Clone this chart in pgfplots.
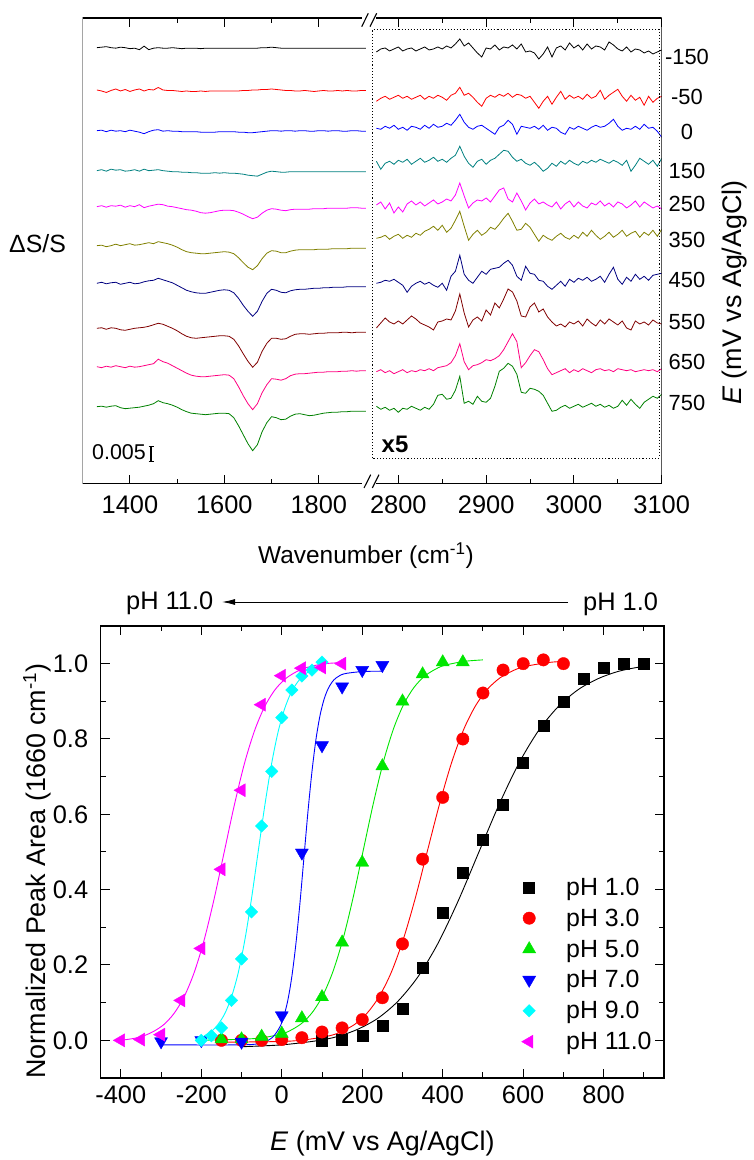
\documentclass[border=0pt]{standalone}
\usepackage{pgfplots}
\pgfplotsset{compat=1.18}
\usepackage{fontspec}
\setmainfont{Liberation Sans}
\usetikzlibrary{arrows.meta}
\definecolor{cTeal}{RGB}{0,128,128}
\definecolor{cOlive}{RGB}{128,128,0}
\definecolor{cNavy}{RGB}{0,0,128}
\definecolor{cMaroon}{RGB}{128,0,0}
\definecolor{cPink}{RGB}{255,0,128}
\definecolor{cGreen}{RGB}{0,128,0}
\definecolor{cLime}{RGB}{0,230,0}
\definecolor{cCyan}{RGB}{0,255,255}
\definecolor{cMag}{RGB}{255,0,255}
\definecolor{cRed}{RGB}{255,0,0}
\definecolor{cBlue}{RGB}{0,0,255}
\newcommand\fs[1]{\fontsize{#1}{#1}\selectfont}
\pgfplotsset{
  spec/.style={line width=0.8bp},
  table/tl/.style={header=false, x expr=\coordindex*10+1330},
  table/tr/.style={header=false, x expr=\coordindex*5+2775},
}
\begin{document}
\begin{tikzpicture}[x=1bp,y=1bp]
\useasboundingbox (0,0) rectangle (754,1160);
% ---------------- top left
\begin{axis}[
  at={(82.7bp,676bp)}, anchor=south west, scale only axis,
  width=283.3bp, height=466bp,
  xmin=1300, xmax=1900, ymin=0, ymax=466,
  axis line style={draw=none},
  xtick={1400,1600,1800}, xticklabels={1400,1600,1800},
  minor xtick={1500,1700},
  ytick=\empty,
  minor ytick={32.3,65.6,99.0,132.3,165.6,199.0,232.3,265.6,299.0,332.3,365.6,399.0,432.3},
  xtick pos=both, ytick pos=left, tick align=inside,
  major tick length=9bp, minor tick length=5bp,
  every tick/.style={black, line width=1bp},
  tick label style={font=\fs{25.5}},
  xticklabel style={yshift=-8.5bp},
]
\addplot[spec, black] table[row sep=\\, tl, y expr=\thisrowno{0}+436.3] {0\\0.5\\1\\0\\-0.5\\0.5\\0\\-1\\-0.5\\-2\\1.5\\-2\\-0.5\\0\\-0.5\\-0.5\\0\\-0.5\\-1\\-0.5\\-0.5\\-0.5\\-1\\-0.5\\-0.5\\-0.5\\-0.5\\-0.5\\-0.5\\-0.5\\-0.5\\-0.5\\-0.5\\-0.5\\-0.5\\0\\0\\0.5\\0\\-0.5\\-0.5\\-0.5\\-0.5\\-0.5\\-0.5\\-0.5\\-0.5\\-0.5\\-0.5\\-0.5\\-0.5\\-0.5\\-0.5\\-0.5\\-0.5\\-0.5\\-0.5\\-0.5\\};
\addplot[spec, cRed] table[row sep=\\, tl, y expr=\thisrowno{0}+394] {0\\-1\\-2.5\\-0.5\\1\\-1\\0.5\\-1.5\\0\\1\\-1\\0.5\\0\\2.5\\0\\-0.5\\-0.5\\-1\\-1.5\\-1\\-1.5\\-1.5\\-1\\-1.5\\-1\\-1\\-1\\-1\\-1\\-1\\-1\\-0.5\\-0.5\\0\\0\\0.5\\0.5\\1\\0.5\\0\\-0.5\\-0.5\\-1\\-1\\-0.5\\-1\\-1.5\\-1\\-0.5\\-1\\-1\\-0.5\\-1\\-0.5\\-1\\-1\\-0.5\\-0.5\\};
\addplot[spec, cBlue] table[row sep=\\, tl, y expr=\thisrowno{0}+353.3] {0\\0.5\\-1\\0.5\\-0.5\\0\\-1\\0.5\\-0.5\\-1.5\\-3\\-1\\0.5\\1\\-0.5\\0\\-0.5\\-0.5\\-1\\-1\\-1\\-1\\-1.5\\-1.5\\-1.5\\-1.5\\-1\\-1\\-1\\-1\\-1.5\\-1.5\\-2\\-2\\-1.5\\-1\\-0.5\\0\\0\\-0.5\\0\\0\\-0.5\\0\\0\\-0.5\\-0.5\\0\\0\\-0.5\\0\\0\\-0.5\\-0.5\\0\\0\\-0.5\\-0.5\\};
\addplot[spec, cTeal] table[row sep=\\, tl, y expr=\thisrowno{0}+313.3] {0\\1\\-0.5\\1.5\\0.5\\1\\-0.5\\0\\1\\-0.5\\1.5\\0\\0.5\\1\\0\\-0.5\\-1\\-1\\-1.5\\-1.5\\-2\\-2\\-2.5\\-2.5\\-2.5\\-2\\-2.5\\-2\\-2.5\\-2.5\\-3\\-3.5\\-4.5\\-5\\-5.5\\-3.5\\-1.5\\-0.5\\-1\\-1.5\\-1.5\\-1\\-1\\-1\\-1\\-1\\-1\\-1\\-1\\-1\\-1\\-1\\-1\\-1\\-1\\-1\\-1\\-1\\};
\addplot[spec, cMag] table[row sep=\\, tl, y expr=\thisrowno{0}+277.3] {0\\1\\-0.5\\1\\0.5\\1.5\\-0.5\\1\\0\\2\\-1\\0.5\\1.5\\2.5\\2\\0.5\\0\\-1\\-2\\-3\\-3.5\\-4.5\\-6\\-6.5\\-6\\-5\\-4\\-3.5\\-3.5\\-4\\-5.5\\-7.5\\-10\\-12\\-10.5\\-6.5\\-3.5\\-2\\-2.5\\-3.5\\-4\\-3\\-2.5\\-2.5\\-2.5\\-2.5\\-2\\-2\\-2\\-1.5\\-1.5\\-1.5\\-1.5\\-1.5\\-1\\-1\\-1.5\\-1.5\\};
\addplot[spec, cOlive] table[row sep=\\, tl, y expr=\thisrowno{0}+238.3] {0\\0.5\\-1\\0\\1.5\\0\\1\\2\\0.5\\1\\2\\3\\2\\4\\3\\2\\0.5\\-1.5\\-4\\-6\\-7\\-7.5\\-8\\-8\\-7.5\\-7\\-6.5\\-6\\-6.5\\-8\\-12\\-17\\-21.5\\-24\\-20\\-13\\-7.5\\-5\\-5.5\\-7\\-7\\-5.5\\-4.5\\-4\\-4\\-4\\-4\\-3.5\\-3.5\\-3.5\\-3\\-3\\-3\\-3\\-2.5\\-2.5\\-2.5\\-2.5\\};
\addplot[spec, cNavy] table[row sep=\\, tl, y expr=\thisrowno{0}+200.7] {0\\1\\-0.5\\0.5\\1\\-1\\0\\1\\-0.5\\0\\1.5\\2.5\\3\\5\\3.5\\2\\0.5\\-2\\-4.5\\-7\\-8.5\\-9.5\\-10\\-10\\-9\\-8\\-7\\-6.5\\-7\\-9.5\\-15\\-22\\-28\\-33\\-28\\-18\\-10\\-6\\-7\\-9\\-9.5\\-7.5\\-6.5\\-6\\-6\\-5.5\\-5\\-5\\-4.5\\-4.5\\-4\\-4\\-4\\-3.5\\-3.5\\-3.5\\-3.5\\-3.5\\};
\addplot[spec, cMaroon] table[row sep=\\, tl, y expr=\thisrowno{0}+155.7] {0\\0.5\\-1\\0.5\\0\\-1.5\\-2\\-1\\0\\0.5\\1\\2\\3.5\\5\\4\\2\\0\\-2.5\\-5.5\\-8\\-9.5\\-10\\-9.5\\-9\\-8.5\\-8\\-7.5\\-7.5\\-8\\-11\\-17.5\\-25.5\\-33\\-39\\-34\\-23\\-15\\-10\\-10\\-11\\-10.5\\-8\\-6\\-5.5\\-5.5\\-6\\-5.5\\-5\\-5\\-4.5\\-4.5\\-4.5\\-4\\-4\\-4.5\\-4\\-4\\-4\\};
\addplot[spec, cPink] table[row sep=\\, tl, y expr=\thisrowno{0}+117.3] {0\\-1\\0.5\\-0.5\\1\\0\\-1\\0.5\\-0.5\\0\\1\\2\\3\\7.5\\5\\3.5\\1\\-1.5\\-4\\-6.5\\-8.5\\-9.5\\-10\\-10\\-9.5\\-9\\-8.5\\-8\\-8.5\\-12\\-20\\-29\\-37\\-43\\-37\\-26\\-18\\-12\\-12.5\\-13.5\\-12\\-9\\-7.5\\-7\\-7\\-6.5\\-6\\-5.5\\-5.5\\-5\\-5\\-5\\-4.5\\-4.5\\-4\\-4.5\\-4\\-4\\};
\addplot[spec, cGreen] table[row sep=\\, tl, y expr=\thisrowno{0}+77.3] {0\\0.5\\-0.5\\0.5\\1\\-1\\-2\\-1.5\\-1\\-0.5\\0.5\\1.5\\3\\6\\4\\3\\1.5\\-0.5\\-3\\-5\\-6.5\\-7\\-7.5\\-8\\-7.5\\-7\\-6.5\\-6.5\\-7\\-11\\-19\\-28\\-37\\-44\\-38\\-25\\-16\\-10\\-11\\-13\\-12.5\\-9.5\\-7.5\\-7\\-8\\-9\\-8.5\\-7.5\\-6.5\\-6\\-5.5\\-5.5\\-5\\-5\\-4.5\\-4.5\\-4.5\\-4.5\\};
\draw[line width=1.3bp] (rel axis cs:0.985,0) -- (rel axis cs:0,0) -- (rel axis cs:0,1) -- (rel axis cs:0.985,1);
\end{axis}
% ---------------- top right
\begin{axis}[
  at={(372bp,676bp)}, anchor=south west, scale only axis,
  width=289.7bp, height=466bp,
  xmin=2770, xmax=3100, ymin=0, ymax=466,
  axis line style={draw=none},
  xtick={2800,2900,3000,3100}, xticklabels={2800,2900,3000,3100},
  minor xtick={2850,2950,3050},
  ytick=\empty,
  minor ytick={32.3,65.6,99.0,132.3,165.6,199.0,232.3,265.6,299.0,332.3,365.6,399.0,432.3},
  xtick pos=both, ytick pos=right, tick align=inside,
  major tick length=9bp, minor tick length=5bp,
  every tick/.style={black, line width=1bp},
  tick label style={font=\fs{25.5}},
  xticklabel style={yshift=-8.5bp},
]
\addplot[spec, black] table[row sep=\\, tr, y expr=\thisrowno{0}+434] {-2\\1\\2\\-1\\1\\3\\-1\\1\\2\\-1\\1\\3\\0\\1\\3\\1\\4\\2\\6\\11\\4\\7\\2\\-3\\-7\\2\\1\\5\\0\\3\\2\\5\\1\\6\\-2\\-1\\-3\\-9\\-4\\3\\-7\\2\\4\\0\\7\\2\\5\\0\\6\\1\\4\\3\\0\\8\\5\\1\\-1\\3\\-2\\1\\0\\-3\\-1\\-4\\-2\\0\\};
\addplot[spec, cRed] table[row sep=\\, tr, y expr=\thisrowno{0}+385.7] {-3\\0\\2\\-1\\1\\3\\0\\2\\-1\\1\\3\\-1\\2\\0\\3\\1\\-2\\3\\5\\11\\3\\5\\1\\-4\\-8\\0\\3\\1\\4\\2\\5\\1\\4\\3\\0\\2\\-4\\-10\\-3\\2\\-6\\1\\7\\-1\\3\\0\\2\\-1\\4\\0\\2\\8\\-1\\3\\6\\9\\2\\-3\\3\\-2\\1\\-7\\2\\-4\\0\\2\\};
\addplot[spec, cBlue] table[row sep=\\, tr, y expr=\thisrowno{0}+355.7] {0\\-1\\2\\0\\3\\-1\\1\\-2\\2\\1\\-1\\3\\0\\4\\1\\2\\5\\3\\8\\14\\6\\1\\-1\\2\\3\\0\\-3\\-6\\1\\3\\8\\4\\-6\\2\\1\\0\\2\\-1\\3\\-2\\1\\0\\-4\\-6\\1\\-1\\2\\0\\-2\\1\\3\\1\\2\\5\\9\\2\\-2\\0\\-1\\2\\-1\\4\\0\\1\\-3\\-9\\};
\addplot[spec, cTeal] table[row sep=\\, tr, y expr=\thisrowno{0}+320.7] {2\\-6\\0\\2\\-1\\3\\1\\4\\-1\\2\\5\\1\\3\\6\\2\\4\\1\\5\\8\\17\\7\\0\\-4\\2\\4\\-1\\3\\5\\9\\13\\12\\6\\2\\4\\0\\-2\\1\\-3\\-8\\-5\\0\\-3\\2\\-1\\3\\0\\-2\\2\\0\\3\\1\\4\\2\\0\\3\\1\\-2\\3\\-8\\-2\\5\\2\\-1\\3\\-3\\5\\};
\addplot[spec, cMag] table[row sep=\\, tr, y expr=\thisrowno{0}+279] {0\\3\\-4\\2\\-8\\-2\\-7\\1\\4\\0\\3\\-1\\2\\5\\1\\3\\6\\4\\10\\22\\9\\-3\\2\\5\\4\\7\\3\\9\\15\\17\\6\\3\\12\\4\\-5\\2\\6\\1\\3\\0\\-2\\3\\-4\\1\\4\\-2\\3\\-1\\-3\\2\\0\\4\\-1\\2\\-2\\3\\1\\-3\\0\\4\\-2\\3\\0\\-3\\-1\\-4\\};
\addplot[spec, cOlive] table[row sep=\\, tr, y expr=\thisrowno{0}+245.7] {0\\1\\3\\-1\\2\\4\\0\\3\\1\\5\\3\\7\\9\\12\\8\\13\\6\\10\\18\\27\\12\\-2\\4\\8\\3\\6\\11\\9\\14\\20\\25\\17\\8\\9\\15\\11\\4\\-3\\3\\0\\-2\\2\\5\\1\\-1\\3\\0\\6\\2\\8\\3\\-1\\2\\6\\1\\4\\8\\2\\5\\7\\1\\6\\3\\8\\2\\9\\};
\addplot[spec, cNavy] table[row sep=\\, tr, y expr=\thisrowno{0}+200.7] {0\\1\\3\\2\\4\\1\\-2\\-9\\-3\\0\\2\\-1\\1\\-2\\-4\\0\\-7\\7\\12\\28\\9\\3\\0\\6\\12\\9\\14\\15\\16\\20\\23\\18\\7\\3\\17\\10\\9\\3\\2\\-3\\-6\\-2\\2\\-3\\4\\1\\5\\3\\6\\2\\4\\7\\1\\9\\16\\4\\-1\\6\\2\\9\\4\\7\\3\\8\\9\\10\\};
\addplot[spec, cMaroon] table[row sep=\\, tr, y expr=\thisrowno{0}+159] {-3\\2\\7\\3\\1\\4\\1\\5\\9\\6\\2\\0\\-2\\-5\\3\\4\\6\\5\\14\\31\\12\\-2\\5\\8\\4\\15\\10\\22\\17\\26\\36\\33\\24\\9\\8\\18\\22\\13\\16\\8\\3\\-1\\1\\-2\\3\\1\\4\\-1\\6\\2\\-1\\5\\1\\6\\3\\0\\4\\-3\\-5\\4\\1\\3\\0\\5\\2\\1\\};
\addplot[spec, cPink] table[row sep=\\, tr, y expr=\thisrowno{0}+112.3] {0\\2\\-1\\1\\-2\\0\\2\\-1\\1\\0\\2\\1\\3\\1\\4\\5\\6\\9\\16\\28\\10\\2\\6\\7\\9\\12\\11\\13\\16\\22\\30\\38\\30\\4\\9\\16\\22\\20\\12\\3\\-3\\-1\\1\\3\\-1\\2\\0\\3\\1\\-1\\2\\3\\1\\2\\0\\3\\2\\1\\2\\0\\1\\2\\1\\2\\0\\3\\};
\addplot[spec, cGreen] table[row sep=\\, tr, y expr=\thisrowno{0}+75.7] {2\\-1\\1\\-2\\0\\-4\\0\\-1\\2\\0\\-2\\1\\-1\\4\\13\\14\\9\\10\\18\\32\\5\\7\\4\\12\\7\\6\\10\\22\\37\\40\\45\\42\\34\\16\\15\\20\\19\\17\\13\\5\\-3\\-2\\1\\3\\0\\2\\4\\1\\3\\5\\2\\4\\1\\3\\0\\2\\8\\3\\9\\4\\0\\6\\9\\12\\10\\14\\};
\draw[line width=1.3bp] (rel axis cs:0.015,0) -- (rel axis cs:1,0) -- (rel axis cs:1,1) -- (rel axis cs:0.015,1);
\draw[dotted, line width=1.1bp] (axis cs:2771,25.7) rectangle (axis cs:3097,454.7);
\end{axis}
% break marks
\draw[line width=1.1bp] (361.7,1133.3) -- (368.3,1146.7) (370,1133.3) -- (376.7,1146.7);
\draw[line width=1.1bp] (364,672) -- (370.7,685.3) (372.3,672) -- (379,685.3);
% top annotations
\node[anchor=west, inner sep=0pt, font=\fs{25}] at (9,916) {ΔS/S};
\node[font=\fs{24.5}] at (366,604) {Wavenumber (cm\textsuperscript{-1})};
\node[rotate=90, font=\fs{27}] at (735,867.5) {\textit{E} (mV vs Ag/AgCl)};
\node[anchor=west, inner sep=0pt, font=\fs{21.5}] at (92,708) {0.005};
\draw[line width=1.2bp] (151,698.5) -- (151,713.5) (148.5,698.5) -- (153.5,698.5) (148.5,713.5) -- (153.5,713.5);
\node[font=\bfseries\fs{24}] at (395,716) {x5};
\begin{scope}[font=\fs{22}]
\node at (687,1102.7) {-150};
\node at (687,1063.3) {-50};
\node at (687,1028.3) {0};
\node at (687,989.3) {150};
\node at (687,956) {250};
\node at (687,920) {350};
\node at (687,880) {450};
\node at (687,838) {550};
\node at (687,798.5) {650};
\node at (687,757) {750};
\end{scope}
% ---------------- bottom
\begin{axis}[
  at={(100.7bp,82bp)}, anchor=south west, scale only axis,
  width=563.3bp, height=452bp,
  xmin=-450, xmax=950, ymin=-0.1, ymax=1.1,
  xtick={-400,-200,0,200,400,600,800},
  xticklabels={-400,-200,0,200,400,600,800},
  minor xtick={-300,-100,100,300,500,700,900},
  ytick={0,0.2,0.4,0.6,0.8,1.0},
  yticklabels={0.0,0.2,0.4,0.6,0.8,1.0},
  minor ytick={0.1,0.3,0.5,0.7,0.9},
  tick align=inside, xtick pos=both, ytick pos=both,
  major tick length=9bp, minor tick length=5.5bp,
  every tick/.style={black, line width=1bp},
  axis line style={line width=1.3bp},
  tick label style={font=\fs{25.5}},
  xticklabel style={yshift=-4bp},
  yticklabel style={xshift=-9bp},
  xlabel={\textit{E} (mV vs Ag/AgCl)},
  ylabel={Normalized Peak Area (1660 cm\textsuperscript{-1})},
  label style={font=\fs{27}},
  xlabel style={at={(axis description cs:0.5,-0.146)}, anchor=center},
  ylabel style={at={(axis description cs:-0.113,0.458)}, anchor=center},
  legend style={draw=none, fill=none, at={(rel axis cs:0.747,0.4476)}, anchor=north west,
    font=\fs{25}, row sep=8bp, inner sep=0pt,
    /tikz/every odd column/.append style={column sep=28.5bp}},
  legend cell align=left,
]
% fits
\addplot[black, line width=0.9bp, smooth, forget plot] coordinates {(-100,-0.017) (0,-0.012) (88,-0.001) (138,0.010) (188,0.029) (238,0.058) (288,0.103) (338,0.168) (388,0.257) (438,0.369) (488,0.495) (538,0.621) (588,0.733) (638,0.822) (688,0.887) (738,0.932) (788,0.961) (838,0.980) (888,0.991) (900,0.993)};
\addplot[cRed, line width=0.9bp, smooth, forget plot] coordinates {(-150,-0.005) (0,-0.003) (62,0.002) (122,0.013) (152,0.025) (182,0.043) (212,0.072) (242,0.116) (272,0.180) (302,0.268) (332,0.378) (362,0.503) (392,0.627) (422,0.737) (452,0.825) (482,0.889) (512,0.933) (542,0.962) (572,0.980) (602,0.992) (662,1.003) (700,1.006)};
\addplot[cLime, line width=0.9bp, smooth, forget plot] coordinates {(-200,0.0) (-97,0.003) (-47,0.007) (3,0.018) (28,0.030) (53,0.048) (78,0.077) (103,0.121) (128,0.185) (153,0.272) (178,0.382) (203,0.507) (228,0.631) (253,0.741) (278,0.828) (303,0.892) (328,0.936) (353,0.965) (378,0.983) (403,0.995) (453,1.006) (500,1.010)};
\addplot[cBlue, line width=0.9bp, smooth, forget plot] coordinates {(-300,-0.012) (-100,-0.012) (-50,-0.007) (-23,0.008) (-5,0.035) (5,0.063) (15,0.106) (25,0.169) (35,0.255) (45,0.362) (55,0.484) (65,0.606) (75,0.713) (85,0.799) (95,0.862) (105,0.905) (115,0.933) (125,0.951) (135,0.962) (155,0.973) (200,0.979) (250,0.980)};
\addplot[cCyan, line width=0.9bp, smooth, forget plot] coordinates {(-200,0.004) (-191,0.013) (-174.5,0.024) (-158,0.043) (-141.5,0.071) (-125,0.115) (-108.5,0.178) (-92,0.265) (-75.5,0.374) (-59,0.498) (-42.5,0.621) (-26,0.730) (-9.5,0.817) (7,0.880) (23.5,0.924) (40,0.952) (56.5,0.971) (73,0.982) (89.5,0.989) (100,0.992)};
\addplot[cMag, line width=0.9bp, smooth, forget plot] coordinates {(-400,0.0) (-368,0.005) (-343,0.012) (-318,0.024) (-293,0.042) (-268,0.071) (-243,0.115) (-218,0.179) (-193,0.266) (-168,0.376) (-143,0.500) (-118,0.624) (-93,0.734) (-68,0.821) (-43,0.885) (-18,0.929) (7,0.958) (32,0.976) (57,0.988) (82,0.995) (107,1.000) (150,1.003)};
% points
\addplot[only marks, mark=square*, black, mark size=5.5bp] coordinates {(100,0.0) (150,0.002) (200,0.013) (250,0.04) (300,0.084) (350,0.194) (400,0.338) (450,0.444) (500,0.533) (550,0.625) (600,0.736) (650,0.836) (700,0.898) (750,0.96) (800,0.99) (850,1.0) (900,1.0)};
\addlegendentry{pH 1.0}
\addplot[only marks, mark=*, cRed, mark size=6.2bp] coordinates {(-150,0.0) (-100,0.0) (-50,0.0) (0,0.002) (50,0.007) (100,0.022) (150,0.033) (200,0.055) (250,0.113) (300,0.256) (350,0.481) (400,0.645) (450,0.8) (500,0.922) (550,0.983) (600,1.0) (650,1.01) (700,1.0)};
\addlegendentry{pH 3.0}
\addplot[only marks, mark=triangle*, cLime, mark size=7.5bp] coordinates {(-150,0.003) (-100,0.003) (-50,0.01) (0,0.018) (50,0.059) (100,0.115) (150,0.26) (200,0.472) (250,0.728) (300,0.9) (350,0.972) (400,1.004) (450,1.004)};
\addlegendentry{pH 5.0}
\addplot[only marks, mark=triangle*, cBlue, mark size=7.5bp, mark options={rotate=180}] coordinates {(-300,-0.003) (-200,0.0) (-100,-0.004) (0,0.066) (50,0.498) (100,0.783) (150,0.939) (200,0.983) (250,0.996)};
\addlegendentry{pH 7.0}
\addplot[only marks, mark=square*, cCyan, mark size=4.4bp, mark options={rotate=45}] coordinates {(-200,0.0) (-175,0.012) (-150,0.033) (-125,0.106) (-100,0.216) (-75,0.341) (-50,0.569) (-25,0.714) (0,0.857) (25,0.93) (50,0.967) (75,0.983) (100,1.004)};
\addlegendentry{pH 9.0}
\addplot[only marks, mark=triangle*, cMag, mark size=7.5bp, mark options={rotate=90}] coordinates {(-400,0.0) (-350,0.002) (-300,0.015) (-250,0.106) (-200,0.244) (-150,0.454) (-100,0.664) (-50,0.891) (0,0.968) (50,0.988) (100,0.99) (150,1.0)};
\addlegendentry{pH 11.0}
\end{axis}
% header arrow
\node[anchor=base west, inner sep=0pt, font=\fs{25.5}] at (126,550) {pH 11.0};
\node[anchor=base west, inner sep=0pt, font=\fs{25.5}] at (583,549) {pH 1.0};
\draw[line width=0.9bp, -{Latex[length=13bp,width=6bp]}] (568,558) -- (222,558);
\end{tikzpicture}
\end{document}
